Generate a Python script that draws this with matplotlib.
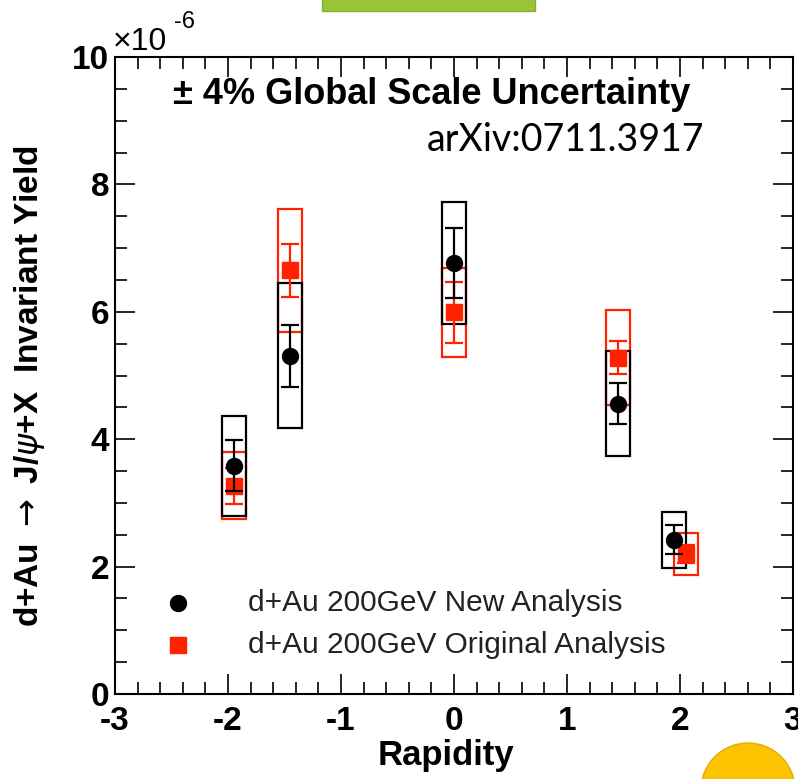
import matplotlib
matplotlib.use("Agg")
import matplotlib.pyplot as plt
from matplotlib.patches import Rectangle, Ellipse
from matplotlib.ticker import MultipleLocator

# =============================
# DATA (yield in units of 1e-6)
# =============================

x_new = [-1.95, -1.45, 0.0, 1.45, 1.95]
y_new = [3.58, 5.31, 6.77, 4.56, 2.42]
stat_new = [0.40, 0.49, 0.55, 0.32, 0.23]
syst_new = [0.78, 1.14, 0.96, 0.82, 0.44]

x_orig = [-1.95, -1.45, 0.0, 1.45, 2.05]
y_orig = [3.27, 6.65, 5.99, 5.28, 2.20]
stat_orig = [0.28, 0.41, 0.48, 0.26, 0.14]
syst_orig = [0.53, 0.97, 0.70, 0.75, 0.33]

label_new = "d+Au 200GeV New Analysis"
label_orig = "d+Au 200GeV Original Analysis"

# =============================
# STYLE
# =============================

RED = "#ff2200"
BOX_HALF = 0.107
FONT = ["Liberation Sans", "DejaVu Sans"]

plt.rcParams["font.family"] = FONT
plt.rcParams["mathtext.fontset"] = "dejavusans"

fig = plt.figure(figsize=(7.98, 7.79), dpi=100)
ax = fig.add_axes([115 / 798, 85 / 779, 678 / 798, 637 / 779])

ax.set_xlim(-3, 3)
ax.set_ylim(0, 10)


def draw_boxes(xs, ys, errs, color, z):
    for x, y, e in zip(xs, ys, errs):
        ax.add_patch(Rectangle((x - BOX_HALF, y - e), 2 * BOX_HALF, 2 * e,
                               fill=False, edgecolor=color, linewidth=1.6, zorder=z))


draw_boxes(x_orig, y_orig, syst_orig, RED, 2)
draw_boxes(x_new, y_new, syst_new, "black", 3)

ax.errorbar(x_orig, y_orig, yerr=stat_orig, fmt="s", color=RED, ms=11.5,
            ecolor=RED, elinewidth=1.6, capsize=6.8, capthick=1.6, zorder=4)
ax.errorbar(x_new, y_new, yerr=stat_new, fmt="o", color="black", ms=11.5,
            ecolor="black", elinewidth=1.6, capsize=6.8, capthick=1.6, zorder=5)

# legend drawn by hand, ROOT-like
ax.plot([0.093], [0.143], "o", color="black", ms=11.5, transform=ax.transAxes, clip_on=False)
ax.plot([0.093], [0.077], "s", color=RED, ms=11.5, transform=ax.transAxes, clip_on=False)
ax.text(0.196, 0.143, label_new, transform=ax.transAxes, fontsize=21.5, va="center", color="#222222")
ax.text(0.196, 0.077, label_orig, transform=ax.transAxes, fontsize=21.5, va="center", color="#222222")

# annotations
ax.text(0.085, 0.941, "\u00b1 4% Global Scale Uncertainty", transform=ax.transAxes,
        fontsize=26, fontweight="bold", va="center")
ax.text(0.46, 0.870, "arXiv:0711.3917", transform=ax.transAxes,
        fontsize=27, va="center", family=["Lato", "DejaVu Sans"])

# ticks
ax.xaxis.set_minor_locator(MultipleLocator(0.2))
ax.yaxis.set_minor_locator(MultipleLocator(0.5))
ax.tick_params(which="both", direction="in", top=True, right=True, width=1.2)
ax.tick_params(which="major", length=14.5, labelsize=24)
ax.tick_params(which="minor", length=8.5)
ax.tick_params(axis="x", pad=9)
ax.tick_params(axis="y", pad=4)
ax.set_xticks([-3, -2, -1, 0, 1, 2, 3])
ax.set_xticklabels(["-3", "-2", "-1", "0", "1", "2", "3"], fontweight="bold")
ax.set_yticks([0, 2, 4, 6, 8, 10])
ax.set_yticklabels(["0", "2", "4", "6", "8", "10"], fontweight="bold")

for spine in ax.spines.values():
    spine.set_linewidth(1.5)

fig.text(113 / 798, 1 - 42 / 779, "\u00d710", fontsize=23, va="center", ha="left")
fig.text(174 / 798, 1 - 22 / 779, "-6", fontsize=17, va="center", ha="left")

fig.text(446 / 798, 1 - 756 / 779, "Rapidity", fontsize=25, fontweight="bold",
         ha="center", va="center")
fig.text(30 / 798, 1 - 386 / 779, r"d+Au $\rightarrow$ J/$\psi$+X  Invariant Yield", fontsize=24,
         fontweight="bold", rotation=90, ha="center", va="center")

# slide decorations
fig.patches.append(Rectangle((3.22, 7.68), 2.13, 0.2, facecolor="#99c43a",
                             edgecolor="#86b02a", linewidth=1, transform=fig.dpi_scale_trans,
                             figure=fig))
fig.patches.append(Ellipse((7.48, -0.11), 0.94, 0.94, facecolor="#fbc300",
                           edgecolor="#e6ac00", linewidth=1, transform=fig.dpi_scale_trans,
                           figure=fig))

fig.savefig("out.png", dpi=100)
